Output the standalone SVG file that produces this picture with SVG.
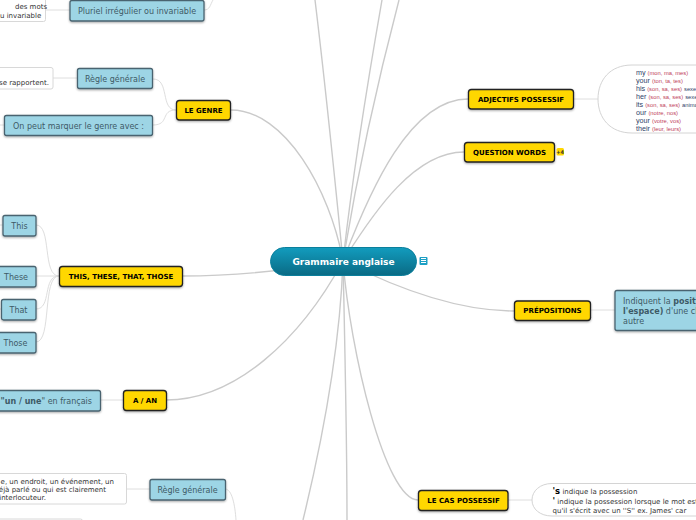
<svg xmlns="http://www.w3.org/2000/svg" width="696" height="520" viewBox="0 0 696 520">
<defs>
<linearGradient id="rootFill" x1="0" y1="0" x2="0" y2="1"><stop offset="0" stop-color="#129cbe"/><stop offset="1" stop-color="#0a6a84"/></linearGradient>
<filter id="shadow" x="-10%" y="-20%" width="120%" height="150%"><feDropShadow dx="0" dy="1" stdDeviation="0.8" flood-color="#000" flood-opacity="0.35"/></filter>
</defs>
<style>
text{font-family:"DejaVu Sans",Verdana,sans-serif}
.main rect{fill:#ffd700;stroke:#222;stroke-width:1.3;filter:url(#shadow)}
.main text{font-size:7px;font-weight:bold;fill:#000;text-anchor:middle}
.sub rect{fill:#9dd5e5;stroke:#4a6470;stroke-width:1.3;filter:url(#shadow)}
.sub text{font-size:8px;fill:#3d5a66;text-anchor:middle}
.note rect{fill:#fff;stroke:#d8d8d8;stroke-width:1}
.note text{font-size:7px;fill:#333}
.cloud path{fill:#fff;stroke:#d4d4d4;stroke-width:1}
.poss{font-size:7.200px;fill:#2f3f6a;font-family:"Liberation Sans",Arial,sans-serif}
.poss tspan{font-size:5.800px;fill:#c0405a}
.poss tspan.k{fill:#2f3f6a}
#connectors path{fill:none}
.thick{stroke:#cacaca;stroke-width:1.400}
.thin{stroke:#dedede;stroke-width:1}
</style>
<g id="connectors">
<path class="thick" d="M343 261C335 180 326 90 315 0"/>
<path class="thick" d="M343 261C352 180 368 80 382 0"/>
<path class="thick" d="M343 261C358 170 378 80 399 0"/>
<path class="thick" d="M343 261C330 190 285 110 231 110"/>
<path class="thick" d="M343 261C370 190 410 99 468 99"/>
<path class="thick" d="M343 261C375 210 415 152 464 152"/>
<path class="thick" d="M343 261C280 272 230 276 182 276"/>
<path class="thick" d="M343 261C300 340 235 400 166 400"/>
<path class="thick" d="M343 261C400 290 460 311 514 311"/>
<path class="thick" d="M343 261C350 350 385 500 418 500"/>
<path class="thick" d="M343 261C340 350 320 450 303 520"/>
<path class="thick" d="M343 261C345 350 347 440 347 520"/>
<path class="thin" d="M153 79C170 79 160 110 176 110"/>
<path class="thin" d="M153 125C170 125 160 110 176 110"/>
<path class="thin" d="M53 78H77"/>
<path class="thin" d="M0 125H4"/>
<path class="thin" d="M46 10H70"/>
<path class="thin" d="M204 10C210 10 210 5 213 0"/>
<path class="thin" d="M36 225C52 225 42 276 59 276"/>
<path class="thin" d="M36 276H59"/>
<path class="thin" d="M36 309C52 309 42 276 59 276"/>
<path class="thin" d="M36 342C52 342 42 276 59 276"/>
<path class="thin" d="M0 225H3"/>
<path class="thin" d="M0 309H1"/>
<path class="thin" d="M100 400H123"/>
<path class="thin" d="M574 99H598"/>
<path class="thin" d="M591 310H615"/>
<path class="thin" d="M508 500H532"/>
<path class="thin" d="M127 489H150"/>
<path class="thin" d="M225 489C232 489 235 505 236 520"/>
</g>
<g id="root"><rect x="270.500" y="247.500" width="146" height="28" rx="14" fill="url(#rootFill)" stroke="#0b7f9c"/><text x="343.500" y="265" font-size="9" font-weight="bold" fill="#fff" text-anchor="middle">Grammaire anglaise</text></g>
<g id="root-icon"><rect x="419.500" y="257" width="8" height="8" rx="1" fill="#1c9fc4"/><path d="M421 258.500H426M421 260.500H426M421 262.500H426" stroke="#fff" stroke-width="1"/></g>
<g id="le-genre" class="main"><rect x="176.500" y="100.500" width="54" height="19.500" rx="3"/><text x="203.500" y="113">LE GENRE</text></g>
<g id="regle-genre" class="sub"><rect x="77.500" y="68.500" width="75" height="20" rx="2"/><text x="115" y="82">Règle générale</text></g>
<g id="marquer" class="sub"><rect x="4.500" y="115.500" width="148" height="20" rx="2"/><text x="78.500" y="129">On peut marquer le genre avec :</text></g>
<g id="pluriel" class="sub"><rect x="70" y="0.500" width="134" height="20.500" rx="2"/><text x="137" y="14">Pluriel irrégulier ou invariable</text></g>
<g id="note-pluriel" class="note"><rect x="-20" y="-10" width="65.500" height="31.500" rx="2"/><text x="15" y="9">des mots</text><text x="0" y="18">u invariable</text></g>
<g id="note-genre" class="note"><rect x="-60" y="67.500" width="113" height="21.500" rx="2"/><text x="-1" y="85">se rapportent.</text></g>
<g id="adjectifs" class="main"><rect x="468.500" y="89.500" width="105" height="19.500" rx="3"/><text x="521" y="102">ADJECTIFS POSSESSIF</text></g>
<g id="adjectifs-note" class="cloud"><path d="M720 65H632C610 65 598 80 598 99C598 118 610 133 632 133H720"/>
<text class="poss" x="636" y="74.500">my <tspan>(mon, ma, mes)</tspan></text>
<text class="poss" x="636" y="82.500">your <tspan>(ton, ta, tes)</tspan></text>
<text class="poss" x="636" y="90.500">his <tspan>(son, sa, ses)</tspan> <tspan class="k">sexe</tspan></text>
<text class="poss" x="636" y="98.500">her <tspan>(son, sa, ses)</tspan> <tspan class="k">sexe</tspan></text>
<text class="poss" x="636" y="106.500">its <tspan>(son, sa, ses)</tspan> <tspan class="k">animal</tspan></text>
<text class="poss" x="636" y="114.500">our <tspan>(notre, nos)</tspan></text>
<text class="poss" x="636" y="122.500">your <tspan>(votre, vos)</tspan></text>
<text class="poss" x="636" y="130.500">their <tspan>(leur, leurs)</tspan></text></g>
<g id="question" class="main"><rect x="464.500" y="142.500" width="90" height="19.500" rx="3"/><text x="509.500" y="155">QUESTION WORDS</text></g>
<g id="question-badge"><rect x="556.500" y="148" width="7.500" height="7.500" rx="1.500" fill="#ffd700"/><text x="560.200" y="153.500" font-size="5" font-weight="bold" fill="#333" text-anchor="middle">+4</text></g>
<g id="prepositions" class="main"><rect x="514.500" y="301" width="76" height="19.500" rx="3"/><text x="552.500" y="313">PRÉPOSITIONS</text></g>
<g id="prep-box" class="sub"><rect x="615" y="290.500" width="100" height="40" rx="2"/><text x="623" y="304" style="text-anchor:start">Indiquent la <tspan font-weight="bold">position</tspan></text><text x="623" y="314" style="text-anchor:start"><tspan font-weight="bold">l'espace)</tspan> d'une chose</text><text x="623" y="323.500" style="text-anchor:start">autre</text></g>
<g id="cas" class="main"><rect x="418.500" y="490.500" width="89.500" height="20" rx="3"/><text x="463.500" y="503">LE CAS POSSESSIF</text></g>
<g id="cas-note" class="cloud"><path d="M720 483.500H552C540 483.500 532 491 532 500C532 509 540 516 552 516H720"/>
<text x="552.500" y="494" font-size="7" fill="#333"><tspan font-weight="bold" font-size="8.500" fill="#000">'s</tspan> indique la possession</text>
<text x="552.500" y="504" font-size="7" fill="#333"><tspan font-weight="bold" font-size="8.500" fill="#000">'</tspan> indique la possession lorsque le mot est</text>
<text x="552.500" y="512.500" font-size="7" fill="#333">qu'il s'écrit avec un ''S'' ex. James' car</text></g>
<g id="this-these" class="main"><rect x="59.500" y="266.500" width="123" height="20" rx="3"/><text x="121" y="279">THIS, THESE, THAT, THOSE</text></g>
<g id="this" class="sub"><rect x="3" y="215.500" width="33" height="20.500" rx="2"/><text x="19.500" y="229">This</text></g>
<g id="these" class="sub"><rect x="-6" y="266.500" width="42" height="20.500" rx="2"/><text x="16" y="280">These</text></g>
<g id="that" class="sub"><rect x="1.500" y="299.500" width="34.500" height="20.500" rx="2"/><text x="18.500" y="313">That</text></g>
<g id="those" class="sub"><rect x="-6" y="332.500" width="42" height="20.500" rx="2"/><text x="15.500" y="346">Those</text></g>
<g id="a-an" class="main"><rect x="123.500" y="390.500" width="43" height="20" rx="3"/><text x="145" y="403">A / AN</text></g>
<g id="un-une" class="sub"><rect x="-30" y="390.500" width="130.500" height="20.500" rx="2"/><text x="92" y="404" style="text-anchor:end"><tspan font-weight="bold">"un / une</tspan>" en français</text></g>
<g id="regle-a" class="sub"><rect x="150" y="479.500" width="75.500" height="20.500" rx="2"/><text x="187.500" y="493">Règle générale</text></g>
<g id="note-a" class="note"><rect x="-80" y="473.500" width="206.500" height="30.500" rx="2"/><text x="114" y="483.500" style="text-anchor:end">e, un endroit, un événement, un</text><text x="106" y="491.500" style="text-anchor:end">éjà parlé ou qui est clairement</text><text x="46" y="500" style="text-anchor:end">interlocuteur.</text></g>
<g id="note-b" class="note"><rect x="-40" y="519" width="122.500" height="20" rx="2"/></g>
</svg>
